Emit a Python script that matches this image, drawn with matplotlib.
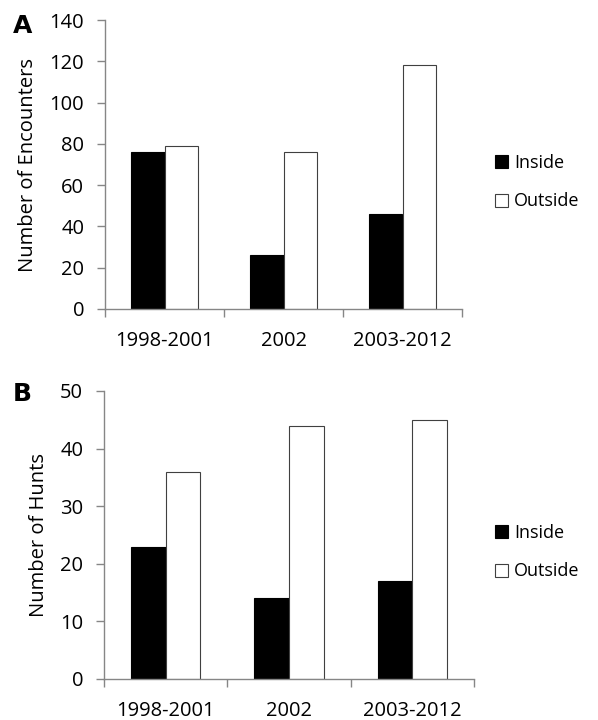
import matplotlib
matplotlib.use("Agg")
import matplotlib.pyplot as plt
import numpy as np

plt.rcParams['font.family'] = ['Open Sans', 'DejaVu Sans']

periods = ["1998-2001", "2002", "2003-2012"]
encounters_inside = [76, 26, 46]
encounters_outside = [79, 76, 118]
hunts_inside = [23, 14, 17]
hunts_outside = [36, 44, 45]

GRAY = "#868686"
FS = 14.5
LEG_FS = 13

W, H = 598, 720


def panel(ax, inside, outside, ylabel, ymax, ystep, legend_xy):
    x = np.arange(len(periods))
    w = 0.28
    ax.bar(x - w / 2, inside, w, color="black", edgecolor="black", linewidth=0.8, label="Inside")
    ax.bar(x + w / 2, outside, w, color="white", edgecolor="#404040", linewidth=0.8, label="Outside")
    ax.set_xlim(-0.5, len(periods) - 0.5)
    ax.set_ylim(0, ymax)
    ax.set_yticks(np.arange(0, ymax + 1, ystep))
    # category labels at centres, ticks at the boundaries
    ax.set_xticks(np.arange(-0.5, len(periods), 1.0))
    ax.set_xticklabels([])
    ax.set_xticks(x, minor=True)
    ax.set_xticklabels(periods, minor=True)
    ax.tick_params(axis="x", which="major", length=6, color=GRAY, width=1)
    ax.tick_params(axis="x", which="minor", length=0, labelsize=FS, pad=16)
    ax.tick_params(axis="y", length=6, color=GRAY, width=1, labelsize=FS, pad=9)
    for s in ("top", "right"):
        ax.spines[s].set_visible(False)
    for s in ("left", "bottom"):
        ax.spines[s].set_color(GRAY)
        ax.spines[s].set_linewidth(1)
    ax.set_ylabel(ylabel, fontsize=FS, labelpad=8)
    lx, ly = legend_xy
    ax.legend(loc="center left", bbox_to_anchor=(lx / W, 1 - ly / H),
              bbox_transform=ax.figure.transFigure, frameon=False, borderpad=0,
              fontsize=LEG_FS, handlelength=0.72, handleheight=0.72,
              handletextpad=0.35, labelspacing=1.15)


fig = plt.figure(figsize=(W / 100, H / 100), dpi=100)
ax_a = fig.add_axes([105 / W, 1 - 309 / H, 357 / W, 289 / H])
ax_b = fig.add_axes([104 / W, 1 - 679 / H, 370 / W, 288 / H])

panel(ax_a, encounters_inside, encounters_outside, "Number of Encounters", 140, 20, (486, 182))
panel(ax_b, hunts_inside, hunts_outside, "Number of Hunts", 50, 10, (486, 552))

fig.text(13 / W, 1 - 26 / H, "A", fontsize=18, fontweight="bold",
         family="DejaVu Sans", ha="left", va="center")
fig.text(13 / W, 1 - 394 / H, "B", fontsize=18, fontweight="bold",
         family="DejaVu Sans", ha="left", va="center")

fig.savefig("out.png", dpi=100)
